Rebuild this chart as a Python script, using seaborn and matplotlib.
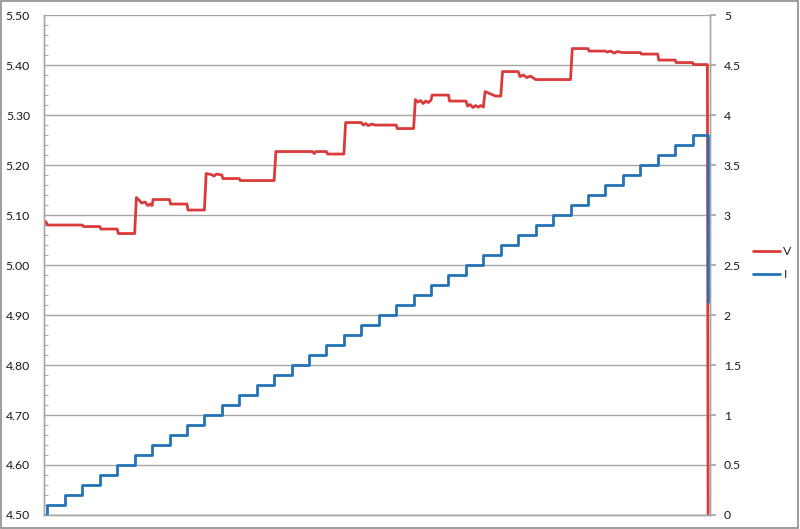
import numpy as np
import pandas as pd
import seaborn as sns
import matplotlib.pyplot as plt
from matplotlib.ticker import MultipleLocator, FormatStrFormatter

# current steps (steps-post), time in samples
t_i = [0, 2, 12, 22, 32, 42, 52, 62, 72, 82, 92, 102, 112, 122, 132, 142, 152,
       162, 172, 182, 192, 202, 212, 222, 232, 242, 252, 262, 272, 282, 292,
       302, 312, 322, 332, 342, 352, 362, 372, 381]
i_val = [0.0, 0.1, 0.2, 0.3, 0.4, 0.5, 0.6, 0.7, 0.8, 0.9, 1.0, 1.1, 1.2, 1.3,
         1.4, 1.5, 1.6, 1.7, 1.8, 1.9, 2.0, 2.1, 2.2, 2.3, 2.4, 2.5, 2.6, 2.7,
         2.8, 2.9, 3.0, 3.1, 3.2, 3.3, 3.4, 3.5, 3.6, 3.7, 3.8, 2.13]

# voltage breakpoints (rows of 10)
t_v = [0, 1, 2, 22, 22.6, 32, 32.6, 42, 42.6, 52,
       53, 54.5, 56, 58, 59.5, 61, 62, 62.6, 72, 72.6,
       82, 82.6, 92, 93, 96, 97.5, 99, 102, 102.6, 112,
       112.6, 132, 133, 154, 155, 156, 162, 162.6, 172, 173,
       182, 183, 184.5, 186, 188, 190, 202, 202.6, 212, 213,
       214.5, 216, 217.5, 219, 220.5, 222, 222.6, 232, 232.6, 242,
       243, 244.5, 246, 247.5, 249, 250.5, 252, 253, 255, 257,
       259, 262, 263, 272, 273, 275, 277, 279, 282, 302,
       303, 312, 312.6, 322, 323, 325, 327, 329, 332, 342,
       342.6, 352, 352.6, 362, 362.6, 372, 372.6, 380.5, 381]
v_val = [5.083, 5.087, 5.080, 5.080, 5.077, 5.077, 5.072, 5.072, 5.063, 5.063,
         5.135, 5.130, 5.124, 5.126, 5.119, 5.122, 5.119, 5.131, 5.131, 5.122,
         5.122, 5.110, 5.110, 5.183, 5.181, 5.178, 5.182, 5.180, 5.173, 5.173,
         5.169, 5.169, 5.227, 5.227, 5.223, 5.227, 5.227, 5.222, 5.222, 5.285,
         5.285, 5.280, 5.283, 5.279, 5.282, 5.280, 5.280, 5.273, 5.273, 5.331,
         5.326, 5.329, 5.323, 5.328, 5.325, 5.330, 5.340, 5.340, 5.328, 5.328,
         5.318, 5.321, 5.315, 5.319, 5.316, 5.319, 5.316, 5.347, 5.344, 5.341,
         5.338, 5.338, 5.387, 5.387, 5.377, 5.380, 5.375, 5.378, 5.371, 5.371,
         5.433, 5.433, 5.428, 5.428, 5.426, 5.428, 5.424, 5.427, 5.425, 5.425,
         5.422, 5.422, 5.410, 5.410, 5.405, 5.405, 5.401, 5.401, 4.30]

sns.set_theme(style="white")
plt.rcParams['font.family'] = ['Lato', 'DejaVu Sans']

red = "#DA3A3A"
blue = "#2472B6"
grid = "#A6A6A6"

fig = plt.figure(figsize=(8, 5.29), dpi=100)
ax = fig.add_axes([0.055, 0.0265, 0.8325, 0.945])

df_v = pd.DataFrame({"t": t_v, "V": v_val})
sns.lineplot(data=df_v, x="t", y="V", ax=ax, color=red, lw=2.0, label="V",
             legend=False, sort=False)
ax.set_ylim(4.5, 5.5)
ax.set_xlim(0, 382)
ax.yaxis.set_major_locator(MultipleLocator(0.1))
ax.yaxis.set_minor_locator(MultipleLocator(0.02))
ax.yaxis.set_major_formatter(FormatStrFormatter('%.2f'))
ax.grid(axis='y', color=grid, lw=1.0)
ax.set_xticks([])
ax.set_xlabel("")
ax.set_ylabel("")
ax.tick_params(axis='y', which='major', length=0, pad=10, labelsize=8.8,
               colors="#1A1A1A")
ax.tick_params(axis='y', which='minor', direction='in', length=3,
               color=grid, width=0.8, left=True)

ax2 = ax.twinx()
df_i = pd.DataFrame({"t": t_i, "I": i_val})
sns.lineplot(data=df_i, x="t", y="I", ax=ax2, color=blue, lw=2.0, label="I",
             legend=False, drawstyle="steps-post", sort=False)
ax2.set_ylim(0, 5)
ax2.yaxis.set_major_locator(MultipleLocator(0.5))
ax2.yaxis.set_major_formatter(FormatStrFormatter('%g'))
ax2.set_ylabel("")
ax2.tick_params(axis='y', which='major', direction='out', length=4,
                color=grid, pad=6, labelsize=8.8, labelcolor="#1A1A1A", right=True)

for a in (ax, ax2):
    for s in a.spines.values():
        s.set_color(grid)
        s.set_linewidth(1.0)
    a.spines['top'].set_visible(False)

handles = ax.get_lines()[:1] + ax2.get_lines()[:1]
fig.legend(handles, ["V", "I"], loc="center left", bbox_to_anchor=(0.935, 0.503),
           frameon=False, fontsize=8.8, handlelength=2.2, handletextpad=0.3,
           labelspacing=1.0, borderaxespad=0)

# chart border
fig.patches.append(plt.Rectangle((0.001, 0.002), 0.997, 0.996, transform=fig.transFigure,
                                 fill=False, edgecolor="#8C8C8C", lw=1.2))

fig.savefig("out.png", dpi=100)
